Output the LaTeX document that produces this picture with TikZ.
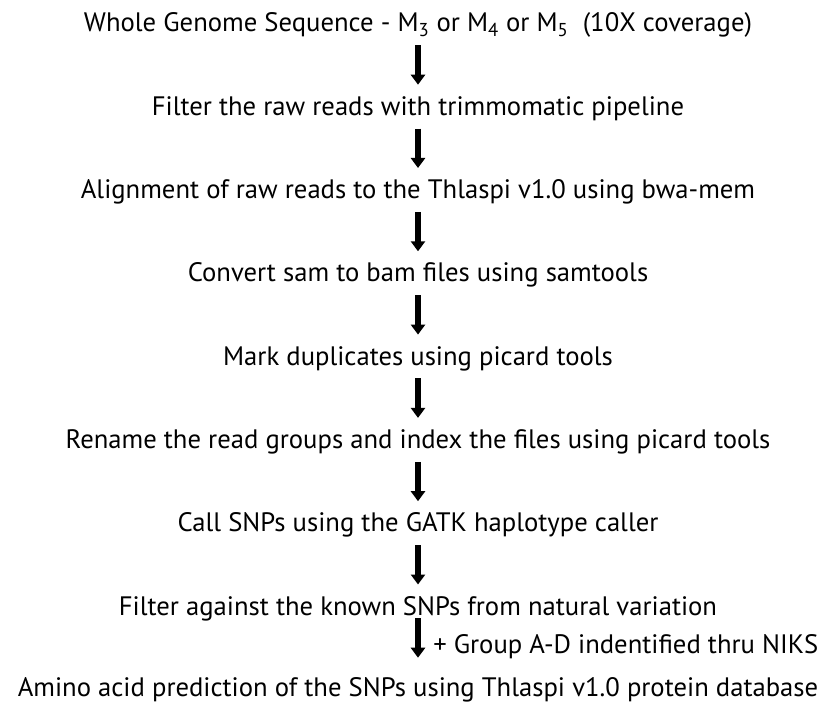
\documentclass[tikz,border=0pt]{standalone}
\usepackage{fontspec}
\setmainfont{PT Sans}
\usetikzlibrary{arrows.meta}
\definecolor{Ink}{HTML}{000000}
\tikzset{
  stage/.style={
    anchor=base, inner sep=0pt,
    font=\fontsize{20}{24}\selectfont, text=Ink,
    text height=14.25pt, text depth=4.5pt,
  },
  note/.style={
    anchor=base west, inner sep=0pt,
    font=\fontsize{20}{24}\selectfont, text=Ink,
  },
  arr/.style={
    -{Triangle[length=7.5pt,width=10.5pt]},
    line width=4.1pt, draw=Ink,
    shorten <=5.25pt, shorten >=8.5pt,
  },
}
\begin{document}
\begin{tikzpicture}[x=0.75pt,y=-0.75pt]
  \useasboundingbox (0,0) rectangle (827,702);
  \node[stage] (wgs)   at (418,32)    {Whole Genome Sequence - M\textsubscript{3} or M\textsubscript{4} or M\textsubscript{5}\ \ (10X coverage)};
  \node[stage] (trim)  at (418,115.3) {Filter the raw reads with trimmomatic pipeline};
  \node[stage] (align) at (418,198.6) {Alignment of raw reads to the Thlaspi v1.0 using bwa-mem};
  \node[stage] (bam)   at (418,281.9) {Convert sam to bam files using samtools};
  \node[stage] (dup)   at (418,365.2) {Mark duplicates using picard tools};
  \node[stage] (rg)    at (418,448.5) {Rename the read groups and index the files using picard tools};
  \node[stage] (call)  at (418,531.8) {Call SNPs using the GATK haplotype caller};
  \node[stage] (filt)  at (418,615.1) {Filter against the known SNPs from natural variation};
  \node[stage] (aa)    at (418,696)   {Amino acid prediction of the SNPs using Thlaspi v1.0 protein database};
  \node[note]  (niks)  at (433,653)   {+ Group A-D indentified thru NIKS};

  \foreach \a/\b in {wgs/trim, trim/align, align/bam, bam/dup, dup/rg, rg/call, call/filt}
    \draw[arr] (\a.south) -- (\b.north);
  \draw[arr, shorten <=-2.25pt, shorten >=14.25pt] (filt.south) -- (aa.north);
\end{tikzpicture}
\end{document}
